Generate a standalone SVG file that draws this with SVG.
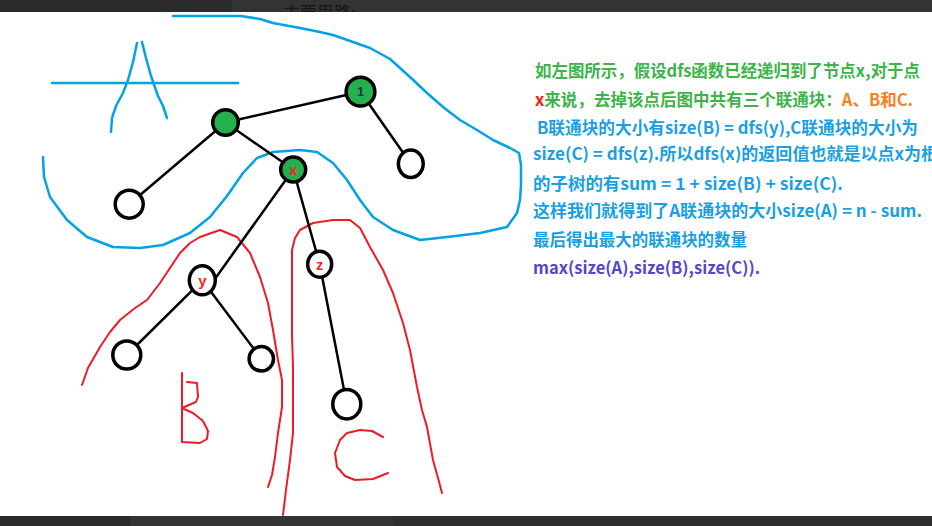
<svg xmlns="http://www.w3.org/2000/svg" width="932" height="526" viewBox="0 0 932 526">
<defs>
<style>
.edge{stroke:#000;stroke-width:2.5;fill:none;stroke-linecap:round}
.nd{stroke:#000;stroke-width:3.5}
.g{fill:#22b14c}
.w{fill:#fff}
.blue{stroke:#00a2e8;stroke-width:2.5;fill:none;stroke-linejoin:round;stroke-linecap:round}
.red{stroke:#ed1c24;stroke-width:2;fill:none;stroke-linejoin:round;stroke-linecap:round}
.lbl{font-family:"Liberation Sans","Noto Sans",sans-serif;font-weight:bold;text-anchor:middle}
.t{font-family:"Noto Sans CJK SC","Noto Sans",sans-serif;font-weight:bold;font-size:16.5px}
.tg{fill:#3cb44a}.tb{fill:#1a9fe2}.to{fill:#f5821f}.tr{fill:#ff1a1a}.tp{fill:#5148cc}
</style>
</defs>
<rect x="0" y="0" width="932" height="526" fill="#333333"/>
<rect x="0" y="0" width="232" height="12" fill="#2b2b2b"/>
<text x="283" y="19" font-family="Noto Sans CJK SC, sans-serif" font-size="17" fill="#151515">主要思路:</text>
<rect x="0" y="12" width="932" height="504" fill="#ffffff"/>
<rect x="0" y="516" width="130" height="10" fill="#2b2b2b"/>
<rect x="393" y="516" width="539" height="10" fill="#2e2e2e"/>

<g id="annotations">
<path class="blue" d="M173,16 L241,16 L260,19 L273,23 L300,28 L320,32 L333,35 L353,42 L370,48 L390,59 L410,77 L427,93 L443,107 L460,120 L477,130 L493,140 L510,148 L519,153 L521,165 L521,185 L520,200 L517,213 L507,227 L480,233 L447,237 L420,240 L393,230 L373,217 L360,200 L347,180 L333,163 L317,152 L300,150 L273,152 L257,158 L243,173 L227,196 L210,217 L190,233 L163,245 L140,248 L113,247 L87,237 L67,220 L50,197 L44,177 L43,157"/>
<path class="blue" d="M52,83 L238,83"/>
<path class="blue" d="M111,132 L112,118 L116,106 L123,93 L128,80 L133,62 L137,43"/>
<path class="blue" d="M142,42 L146,58 L151,76 L158,96 L163,106 L167,118"/>
<path class="red" d="M82,385 L88,368 L100,347 L110,332 L120,320 L135,308 L147,300 L160,283 L170,268 L180,253 L190,243 L200,237 L220,230 L237,237 L250,253 L260,277 L268,303 L273,330 L278,360 L282,380 L282,407 L278,433 L275,457 L272,475 L268,487"/>
<path class="red" d="M283,515 L286,490 L290,460 L293,433 L293,400 L293,367 L292,335 L292,300 L292,250 L295,238 L300,230 L313,223 L333,220 L350,220 L360,228 L370,247 L383,270 L393,293 L403,323 L410,350 L417,387 L422,410 L427,427 L433,460 L438,478 L442,493"/>
<path class="red" d="M182,373 L182,442 M187,382 L197,383 L198,397 L196,402 L182,408 M182,408 L193,413 L203,421 L208,431 L207,439 L200,443 L182,442"/>
<path class="red" d="M383,437 L372,431 L360,430 L347,433 L340,440 L335,453 L337,467 L345,476 L355,480 L373,479 L388,473"/>
</g>

<g id="connectors">
<line class="edge" x1="225.5" y1="122.5" x2="360.5" y2="91.7"/>
<line class="edge" x1="360.5" y1="91.7" x2="410.8" y2="163.8"/>
<line class="edge" x1="225.5" y1="122.5" x2="129.2" y2="204.2"/>
<line class="edge" x1="225.5" y1="122.5" x2="293.2" y2="169.5"/>
<line class="edge" x1="293.2" y1="169.5" x2="212" y2="283"/>
<line class="edge" x1="293.2" y1="169.5" x2="319.7" y2="264.2"/>
<line class="edge" x1="202.3" y1="280.3" x2="126.8" y2="355"/>
<line class="edge" x1="202.3" y1="280.3" x2="261.3" y2="358.8"/>
<line class="edge" x1="319.7" y1="264.2" x2="346.8" y2="404.2"/>
</g>

<g id="node-1"><circle class="nd g" cx="360.5" cy="91.7" r="14.4"/><text class="lbl" x="360.5" y="96" font-size="12" fill="#2a2a4a">1</text></g>
<g id="node-a"><circle class="nd g" cx="225.5" cy="122.5" r="12.8"/></g>
<g id="node-x"><circle class="nd g" cx="293.2" cy="169.5" r="12.5"/><text class="lbl" x="293.2" y="175" font-size="15" fill="#ff2020">x</text></g>
<g id="node-r"><ellipse class="nd w" cx="410.8" cy="163.8" rx="12.4" ry="13.7"/></g>
<g id="node-ll"><circle class="nd w" cx="129.2" cy="204.2" r="14"/></g>
<g id="node-y"><ellipse class="nd w" cx="202.3" cy="280.3" rx="13" ry="14.5"/><text class="lbl" x="202.3" y="286" font-size="15" fill="#ff2020">y</text></g>
<g id="node-yl"><circle class="nd w" cx="126.8" cy="355" r="14"/></g>
<g id="node-yr"><circle class="nd w" cx="261.3" cy="358.8" r="12.2"/></g>
<g id="node-z"><ellipse class="nd w" cx="319.7" cy="264.2" rx="12" ry="13"/><text class="lbl" x="319.7" y="269.5" font-size="14" fill="#ff2020">z</text></g>
<g id="node-zc"><ellipse class="nd w" cx="346.8" cy="404.2" rx="14" ry="14.7"/></g>

<g id="explanation">
<text class="t tg" x="535" y="77" textLength="385" lengthAdjust="spacingAndGlyphs">如左图所示，假设dfs函数已经递归到了节点x,对于点</text>
<text class="t" x="535" y="106" textLength="378" lengthAdjust="spacingAndGlyphs"><tspan class="tr">x</tspan><tspan class="tg">来说，去掉该点后图中共有三个联通块：</tspan><tspan class="to">A、B和C.</tspan></text>
<text class="t tb" x="537" y="134" textLength="381" lengthAdjust="spacingAndGlyphs">B联通块的大小有size(B) = dfs(y),C联通块的大小为</text>
<text class="t tb" x="533" y="160" textLength="405" lengthAdjust="spacingAndGlyphs">size(C) = dfs(z).所以dfs(x)的返回值也就是以点x为根</text>
<text class="t tb" x="533" y="190" textLength="310" lengthAdjust="spacingAndGlyphs">的子树的有sum = 1 + size(B) + size(C).</text>
<text class="t tb" x="533" y="217" textLength="389" lengthAdjust="spacingAndGlyphs">这样我们就得到了A联通块的大小size(A) = n - sum.</text>
<text class="t tb" x="533" y="246" textLength="214" lengthAdjust="spacingAndGlyphs">最后得出最大的联通块的数量</text>
<text class="t tp" x="533" y="274" textLength="227" lengthAdjust="spacingAndGlyphs">max(size(A),size(B),size(C)).</text>
</g>
</svg>
